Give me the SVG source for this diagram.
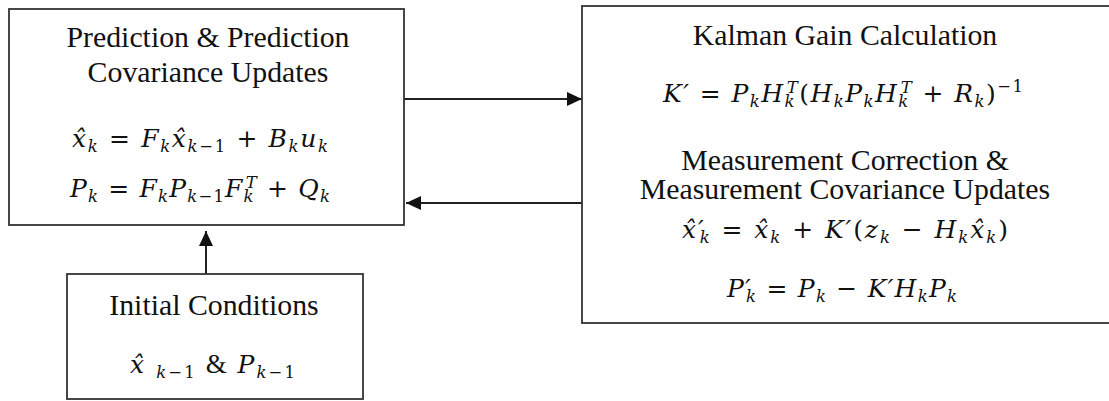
<svg xmlns="http://www.w3.org/2000/svg" width="1109" height="401" viewBox="0 0 1109 401">
<style>
.box{fill:#fff;stroke:#333;stroke-width:1.8}
.t{font-size:29.8px;fill:#111;text-anchor:middle}
.m{font-style:italic;font-size:25px;fill:#111}
.s{font-size:16.5px}
.u{font-style:normal}
.conn line{stroke:#222;stroke-width:2;fill:none}
</style>
<defs>
<marker id="ah" markerUnits="userSpaceOnUse" markerWidth="16" markerHeight="14" refX="15" refY="7" orient="auto">
<path d="M0,0 L15,7 L0,14 Z" fill="#111"/>
</marker>
</defs>
<rect width="1109" height="401" fill="#fff"/>
<g id="conn" class="conn">
<line x1="404" y1="99" x2="582" y2="99" marker-end="url(#ah)"/>
<line x1="582" y1="203" x2="406" y2="203" marker-end="url(#ah)"/>
<line x1="206" y1="274" x2="206" y2="231" marker-end="url(#ah)"/>
</g>
<g id="prediction">
<rect class="box" x="9" y="9" width="395" height="216"/>
<text class="t" x="208" y="47" font-family="Liberation Serif">Prediction &amp; Prediction</text>
<text class="t" x="208" y="82" font-family="Liberation Serif">Covariance Updates</text>
<text class="m" x="72" y="147" font-family="DejaVu Serif" textLength="256" lengthAdjust="spacing">x̂<tspan class="s" dy="5">k</tspan><tspan class="u" dy="-5"> = </tspan>F<tspan class="s" dy="5">k</tspan><tspan dy="-5">x̂</tspan><tspan class="s" dy="5">k<tspan class="u">−1</tspan></tspan><tspan class="u" dy="-5"> + </tspan>B<tspan class="s" dy="5">k</tspan><tspan dy="-5">u</tspan><tspan class="s" dy="5">k</tspan></text>
<text class="m" x="70" y="197" font-family="DejaVu Serif" textLength="260" lengthAdjust="spacing">P<tspan class="s" dy="5">k</tspan><tspan class="u" dy="-5"> = </tspan>F<tspan class="s" dy="5">k</tspan><tspan dy="-5">P</tspan><tspan class="s" dy="5">k<tspan class="u">−1</tspan></tspan><tspan dy="-5">F</tspan><tspan class="s" dy="5">k</tspan><tspan class="s" dx="-9" dy="-14">T</tspan><tspan class="u" dy="9"> + </tspan>Q<tspan class="s" dy="5">k</tspan></text>
</g>
<g id="kalman">
<rect class="box" x="582" y="6" width="532" height="317"/>
<text class="t" x="845" y="45" font-family="Liberation Serif">Kalman Gain Calculation</text>
<text class="m" x="663" y="102" font-family="DejaVu Serif" textLength="360" lengthAdjust="spacing">K′<tspan class="u"> = </tspan>P<tspan class="s" dy="5">k</tspan><tspan dy="-5">H</tspan><tspan class="s" dy="5">k</tspan><tspan class="s" dx="-9" dy="-14">T</tspan><tspan class="u" dy="9">(</tspan>H<tspan class="s" dy="5">k</tspan><tspan dy="-5">P</tspan><tspan class="s" dy="5">k</tspan><tspan dy="-5">H</tspan><tspan class="s" dy="5">k</tspan><tspan class="s" dx="-9" dy="-14">T</tspan><tspan class="u" dy="9"> + </tspan>R<tspan class="s" dy="5">k</tspan><tspan class="u" dy="-5">)</tspan><tspan class="s u" dy="-10">−1</tspan></text>
<text class="t" x="845" y="170" font-family="Liberation Serif">Measurement Correction &amp;</text>
<text class="t" x="845" y="199" font-family="Liberation Serif">Measurement Covariance Updates</text>
<text class="m" x="682" y="238" font-family="DejaVu Serif" textLength="326" lengthAdjust="spacing">x̂′<tspan class="s" dx="-6" dy="5">k</tspan><tspan class="u" dy="-5"> =  </tspan>x̂<tspan class="s" dy="5">k</tspan><tspan class="u" dy="-5"> + </tspan>K′<tspan class="u">(</tspan>z<tspan class="s" dy="5">k</tspan><tspan class="u" dy="-5"> − </tspan>H<tspan class="s" dy="5">k</tspan><tspan dy="-5">x̂</tspan><tspan class="s" dy="5">k</tspan><tspan class="u" dy="-5">)</tspan></text>
<text class="m" x="727" y="297" font-family="DejaVu Serif" textLength="230" lengthAdjust="spacing">P′<tspan class="s" dx="-6" dy="5">k</tspan><tspan class="u" dy="-5"> = </tspan>P<tspan class="s" dy="5">k</tspan><tspan class="u" dy="-5"> − </tspan>K′H<tspan class="s" dy="5">k</tspan><tspan dy="-5">P</tspan><tspan class="s" dy="5">k</tspan></text>
</g>
<g id="initial">
<rect class="box" x="67" y="274" width="296" height="125"/>
<text class="t" x="214" y="315" font-family="Liberation Serif">Initial Conditions</text>
<text class="m" x="130" y="373" font-family="DejaVu Serif" textLength="165" lengthAdjust="spacing">x̂ <tspan class="s" dy="5">k<tspan class="u">−1</tspan></tspan><tspan class="u" dy="-5" font-family="Liberation Serif" font-size="27"> &amp; </tspan>P<tspan class="s" dy="5">k<tspan class="u">−1</tspan></tspan></text>
</g>
</svg>
